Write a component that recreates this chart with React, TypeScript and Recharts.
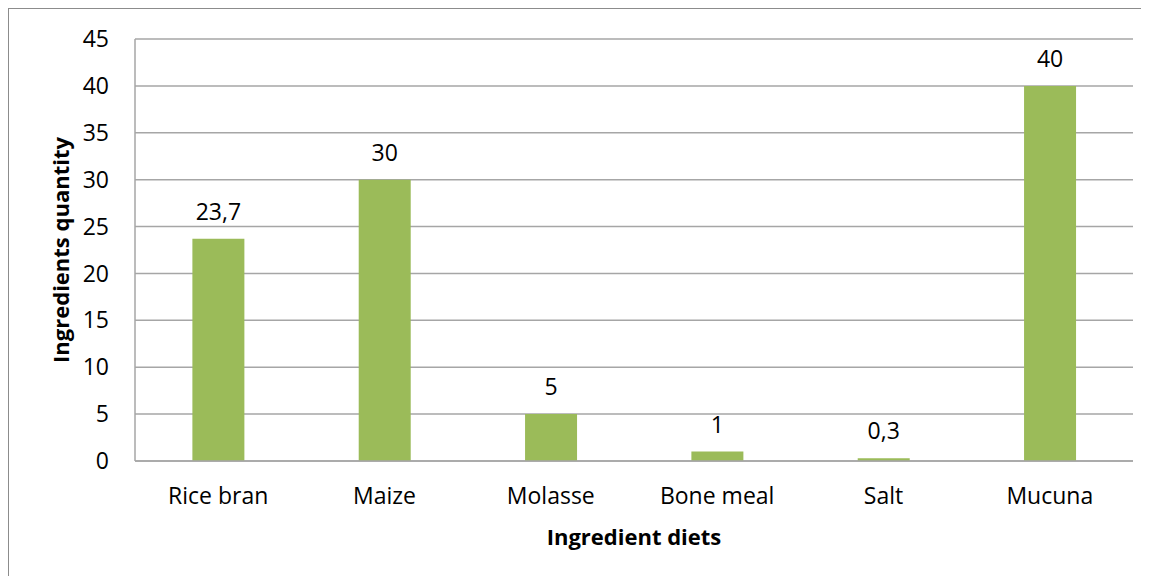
import { BarChart, Bar, XAxis, YAxis, CartesianGrid, LabelList } from "recharts";

const ingredients = ["Rice bran", "Maize", "Molasse", "Bone meal", "Salt", "Mucuna"];
const quantities = [23.7, 30, 5, 1, 0.3, 40];
const yTicks = [0, 5, 10, 15, 20, 25, 30, 35, 40, 45];

const chartData = ingredients.map((name, i) => ({ name, qty: quantities[i] }));

const font = "'Open Sans', sans-serif";
const gridColor = "#A6A6A6";

export default function App() {
  return (
    <div
      style={{
        width: 1138,
        height: 568,
        border: "1.5px solid #8C8C8C",
        background: "#fff",
        fontFamily: font,
      }}
    >
      <BarChart
        width={1138}
        height={566}
        data={chartData}
        margin={{ top: 30, right: 14, left: 0, bottom: 24 }}
        barCategoryGap="34.5%"
      >
        <CartesianGrid vertical={false} stroke={gridColor} strokeWidth={1.5} />
        <XAxis
          dataKey="name"
          height={90}
          axisLine={{ stroke: gridColor, strokeWidth: 1.5 }}
          tickLine={false}
          tickSize={0}
          tickMargin={27}
          tick={{ fill: "#000", fontSize: 23, fontFamily: font }}
          label={{
            value: "Ingredient diets",
            position: "insideBottom",
            offset: 6,
            style: { fill: "#000", fontSize: 22, fontWeight: 700, fontFamily: font },
          }}
        />
        <YAxis
          width={126}
          domain={[0, 45]}
          ticks={yTicks}
          interval={0}
          axisLine={{ stroke: gridColor, strokeWidth: 1.5 }}
          tickLine={false}
          tickSize={0}
          tickMargin={26}
          tick={{ fill: "#000", fontSize: 23, fontFamily: font }}
          label={{
            value: "Ingredients quantity",
            angle: -90,
            position: "insideLeft",
            offset: 52,
            style: {
              textAnchor: "middle",
              fill: "#000",
              fontSize: 22,
              fontWeight: 700,
              fontFamily: font,
            },
          }}
        />
        <Bar dataKey="qty" fill="#9BBB59" isAnimationActive={false}>
          <LabelList
            dataKey="qty"
            position="top"
            offset={19}
            formatter={(v: any) => String(v).replace(".", ",")}
            style={{ fill: "#000", fontSize: 23, fontFamily: font }}
          />
        </Bar>
      </BarChart>
    </div>
  );
}
